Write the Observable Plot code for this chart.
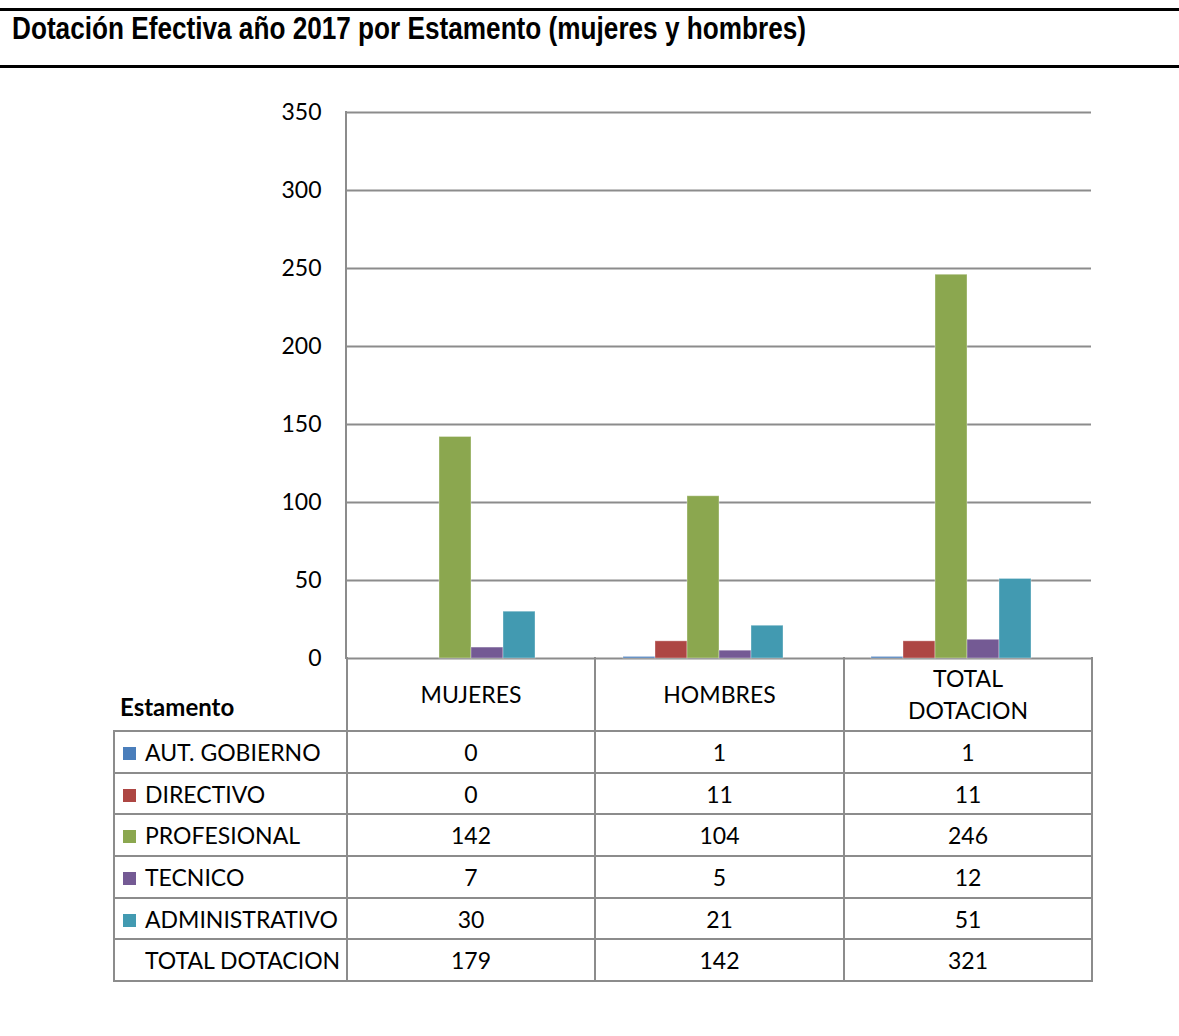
<!DOCTYPE html>
<html><head><meta charset="utf-8">
<script src="https://cdn.jsdelivr.net/npm/d3@7"></script>
<script src="https://cdn.jsdelivr.net/npm/@observablehq/plot@0.6"></script>
<style>
html,body{margin:0;padding:0;background:#fff;}
body{width:1179px;height:1036px;position:relative;overflow:hidden;font-family:Lato,"Open Sans",sans-serif;color:#000;}
#title{position:absolute;left:0;top:8px;width:1179px;height:54px;border-top:3px solid #000;border-bottom:3px solid #000;box-sizing:content-box;}
#title span{position:absolute;left:12px;top:-2px;font-family:"Liberation Sans Narrow","Liberation Sans",Arial,sans-serif;font-weight:bold;font-size:31px;line-height:40px;white-space:nowrap;transform-origin:0 50%;}
#chart{position:absolute;left:0;top:90px;}
#axisline{position:absolute;left:345px;top:111px;width:2px;height:548px;background:#8c8c8c;}
#tbl{position:absolute;left:113px;top:657px;border-collapse:collapse;table-layout:fixed;font-size:23px;}
#tbl td{border:2px solid #8c8c8c;padding:0;text-align:center;vertical-align:middle;white-space:nowrap;}
#tbl td.lab{text-align:left;padding-left:8px;}
#tbl td.corner{border-top:none;border-left:none;text-align:left;vertical-align:bottom;font-weight:bold;font-size:24px;padding-left:6px;padding-bottom:7px;}
#tbl tr.head td{border-top:none;height:66px;line-height:32px;}
#tbl tr.row td{height:39.7px;}
.key{display:inline-block;width:13px;height:13px;margin-right:9px;vertical-align:1px;}
</style></head>
<body>
<div id="title"><span id="titletext">Dotación Efectiva año 2017 por Estamento (mujeres y hombres)</span></div>
<div id="chart"></div>
<div id="axisline"></div>
<table id="tbl"></table>
<script>
const categories = ["MUJERES", "HOMBRES", "TOTAL DOTACION"];
const categoryLabels = ["MUJERES", "HOMBRES", "TOTAL<br>DOTACION"];
const series = ["AUT. GOBIERNO", "DIRECTIVO", "PROFESIONAL", "TECNICO", "ADMINISTRATIVO", "TOTAL DOTACION"];
const autGobierno = [0, 1, 1];
const directivo = [0, 11, 11];
const profesional = [142, 104, 246];
const tecnico = [7, 5, 12];
const administrativo = [30, 21, 51];
const totalDotacion = [179, 142, 321];
const seriesColors = ["#4a7ebb", "#ad4643", "#8ba74f", "#745a94", "#429ab1"];
const yTicks = [0, 50, 100, 150, 200, 250, 300, 350];

const values = [autGobierno, directivo, profesional, tecnico, administrativo, totalDotacion];
const drawn = series.slice(0, 5);
const data = [];
drawn.forEach((s, i) => categories.forEach((c, j) => data.push({series: s, category: c, value: values[i][j]})));

const chart = Plot.plot({
  width: 1179,
  height: 582,
  marginTop: 22,
  marginBottom: 14,
  marginLeft: 346,
  marginRight: 88,
  style: {fontFamily: "Lato, 'Open Sans', sans-serif", background: "transparent", color: "#000"},
  fx: {domain: categories, padding: 0, axis: null},
  x: {domain: series, paddingInner: 0, paddingOuter: 0.76, axis: null},
  y: {domain: [0, 350]},
  color: {domain: drawn, range: seriesColors},
  marks: [
    Plot.ruleY(yTicks, {stroke: "#8c8c8c", strokeWidth: 2}),
    Plot.axisY({ticks: yTicks, tickSize: 0, tickPadding: 26, fontSize: 23, label: null}),
    Plot.barY(data, {fx: "category", x: "series", y: "value", fill: "series", stroke: "#fff", strokeOpacity: 0.35, strokeWidth: 1})
  ]
});
document.getElementById("chart").appendChild(chart);

// fit title width
const tt = document.getElementById("titletext");
const w = tt.getBoundingClientRect().width;
tt.style.transform = `scaleX(${794 / w})`;

// data table
const tbl = document.getElementById("tbl");
const colgroup = document.createElement("colgroup");
[233, 248, 249, 248].forEach(w => { const c = document.createElement("col"); c.style.width = w + "px"; colgroup.appendChild(c); });
tbl.appendChild(colgroup);
let html = '<tr class="head"><td class="corner">Estamento</td>' + categoryLabels.map(c => `<td>${c}</td>`).join("") + '</tr>';
series.forEach((s, i) => {
  const key = i < 5 ? `<span class="key" style="background:${seriesColors[i]}"></span>` : `<span class="key"></span>`;
  html += `<tr class="row"><td class="lab">${key}${s}</td>` + values[i].map(v => `<td>${v}</td>`).join("") + '</tr>';
});
tbl.insertAdjacentHTML("beforeend", html);
</script>
</body></html>
